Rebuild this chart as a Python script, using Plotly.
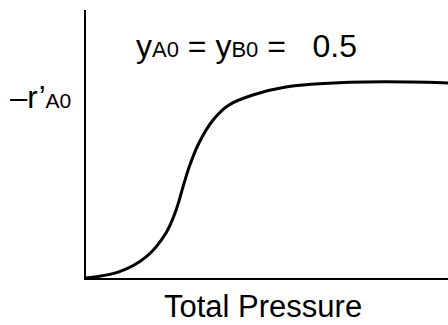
import plotly.graph_objects as go

# Data (arbitrary units)
pressure = [0.0, 0.91, 1.66, 2.21, 2.49, 2.68, 2.85, 3.12, 3.51, 3.95, 4.61, 5.52, 7.29, 8.95, 10.0]
rate = [0.0, 0.031, 0.108, 0.231, 0.349, 0.467, 0.569, 0.692, 0.810, 0.887, 0.938, 0.979, 1.003, 1.005, 1.0]

W, H = 448, 325
L, R, T, B = 86, 0, 10, 47
pw, ph = W - L - R, H - T - B

def px(x):
    return (x - L) / pw

def py(y):
    return (H - B - y) / ph

fig = go.Figure()
fig.add_trace(go.Scatter(x=pressure, y=rate, mode="lines",
                         line=dict(color="black", width=3, shape="spline", smoothing=1.0),
                         hoverinfo="skip", showlegend=False))

FAM = "Liberation Sans, Arial, sans-serif"
font = dict(family=FAM, size=31, color="black")
font_top = dict(family=FAM, size=32, color="black")
SUB = '<span style="font-size:{}px">{}</span>'

fig.update_layout(
    width=W, height=H,
    margin=dict(l=L, r=R, t=T, b=B),
    paper_bgcolor="white", plot_bgcolor="white",
    xaxis=dict(range=[0, 10], showgrid=False, zeroline=False, showticklabels=False,
               ticks="", showline=True, linecolor="black", linewidth=2),
    yaxis=dict(range=[0, 1.374], showgrid=False, zeroline=False, showticklabels=False,
               ticks="", showline=True, linecolor="black", linewidth=2),
    annotations=[
        dict(text="y" + SUB.format(22, "A0") + " = y" + SUB.format(22, "B0") + " =\u00a0\u00a0 0.5",
             xref="paper", yref="paper",
             x=px(134), y=py(46), xanchor="left", yanchor="middle", showarrow=False, font=font_top),
        dict(text="\u2013r\u2019" + SUB.format(21, "A0"), xref="paper", yref="paper",
             x=px(8), y=py(97), xanchor="left", yanchor="middle", showarrow=False, font=font),
        dict(text="Total Pressure", xref="paper", yref="paper",
             x=px(263), y=py(306), xanchor="center", yanchor="middle", showarrow=False, font=font),
    ],
)

fig.write_html("out.html")
